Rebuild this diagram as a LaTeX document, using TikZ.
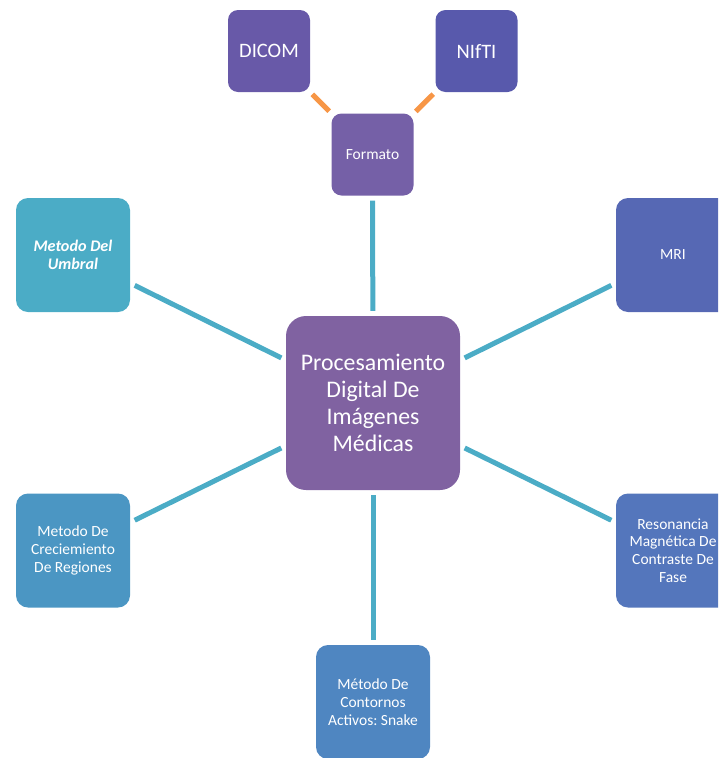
\documentclass[tikz,border=0pt]{standalone}
\usepackage{fontspec}
\setmainfont{Carlito}
\frenchspacing
\definecolor{cDicom}{RGB}{104,89,168}
\definecolor{cNifti}{RGB}{88,89,172}
\definecolor{cFormato}{RGB}{117,96,167}
\definecolor{cHub}{RGB}{128,98,161}
\definecolor{cUmbral}{RGB}{75,172,198}
\definecolor{cMri}{RGB}{86,104,180}
\definecolor{cRegiones}{RGB}{75,150,195}
\definecolor{cFase}{RGB}{84,118,188}
\definecolor{cSnake}{RGB}{79,134,193}
\definecolor{cLink}{RGB}{75,172,198}
\definecolor{cOrange}{RGB}{247,150,70}
\begin{document}
\begin{tikzpicture}[x=1pt,y=-1pt,
  box/.style={rounded corners=12pt, minimum width=114pt, minimum height=114pt,
    inner sep=2pt, align=center, text=white, font=\fontsize{15.5}{17.8}\selectfont},
  smallbox/.style={rounded corners=10pt, minimum width=82pt, minimum height=82pt,
    inner sep=2pt, align=center, text=white},
  hubbox/.style={rounded corners=20pt, minimum width=174pt, minimum height=174pt,
    inner sep=2pt, align=center, text=white, font=\fontsize{23.8}{27}\selectfont},
  link/.style={line width=5pt, draw=cLink, shorten >=5pt, shorten <=5pt},
  fmtlink/.style={line width=5pt, draw=cOrange, shorten >=3pt, shorten <=3pt}]
\useasboundingbox (0,0) rectangle (718,758);
\clip (0,0) rectangle (718,758);

% central topic
\node[hubbox, fill=cHub] (hub) at (373,403) {Procesamiento\\Digital De\\Imágenes\\Médicas};

% file formats
\node[smallbox, fill=cFormato, font=\fontsize{15.5}{18}\selectfont] (formato) at (372.5,154.5) {Formato};
\node[smallbox, fill=cDicom, font=\fontsize{20.5}{24}\selectfont] (dicom) at (269,51) {DICOM};
\node[smallbox, fill=cNifti, font=\fontsize{20.5}{24}\selectfont] (nifti) at (476.5,51) {NIfTI};

% surrounding topics
\node[box, fill=cUmbral, font=\fontsize{16.2}{17.8}\selectfont\bfseries\itshape] (umbral) at (73,255) {Metodo Del\\Umbral};
\node[box, fill=cMri] (mri) at (673,255) {MRI};
\node[box, fill=cRegiones] (regiones) at (73,550.5) {Metodo De\\Creciemiento\\De Regiones};
\node[box, fill=cFase] (fase) at (673,550.5) {Resonancia\\Magnética De\\Contraste De\\Fase};
\node[box, fill=cSnake] (snake) at (373,702) {Método De\\Contornos\\Activos: Snake};

% connectors
\draw[link] (hub) -- (formato);
\draw[link] (hub) -- (umbral);
\draw[link] (hub) -- (mri);
\draw[link] (hub) -- (regiones);
\draw[link] (hub) -- (fase);
\draw[link] (hub) -- (snake);
\draw[fmtlink] (formato) -- (dicom);
\draw[fmtlink] (formato) -- (nifti);
\end{tikzpicture}
\end{document}
